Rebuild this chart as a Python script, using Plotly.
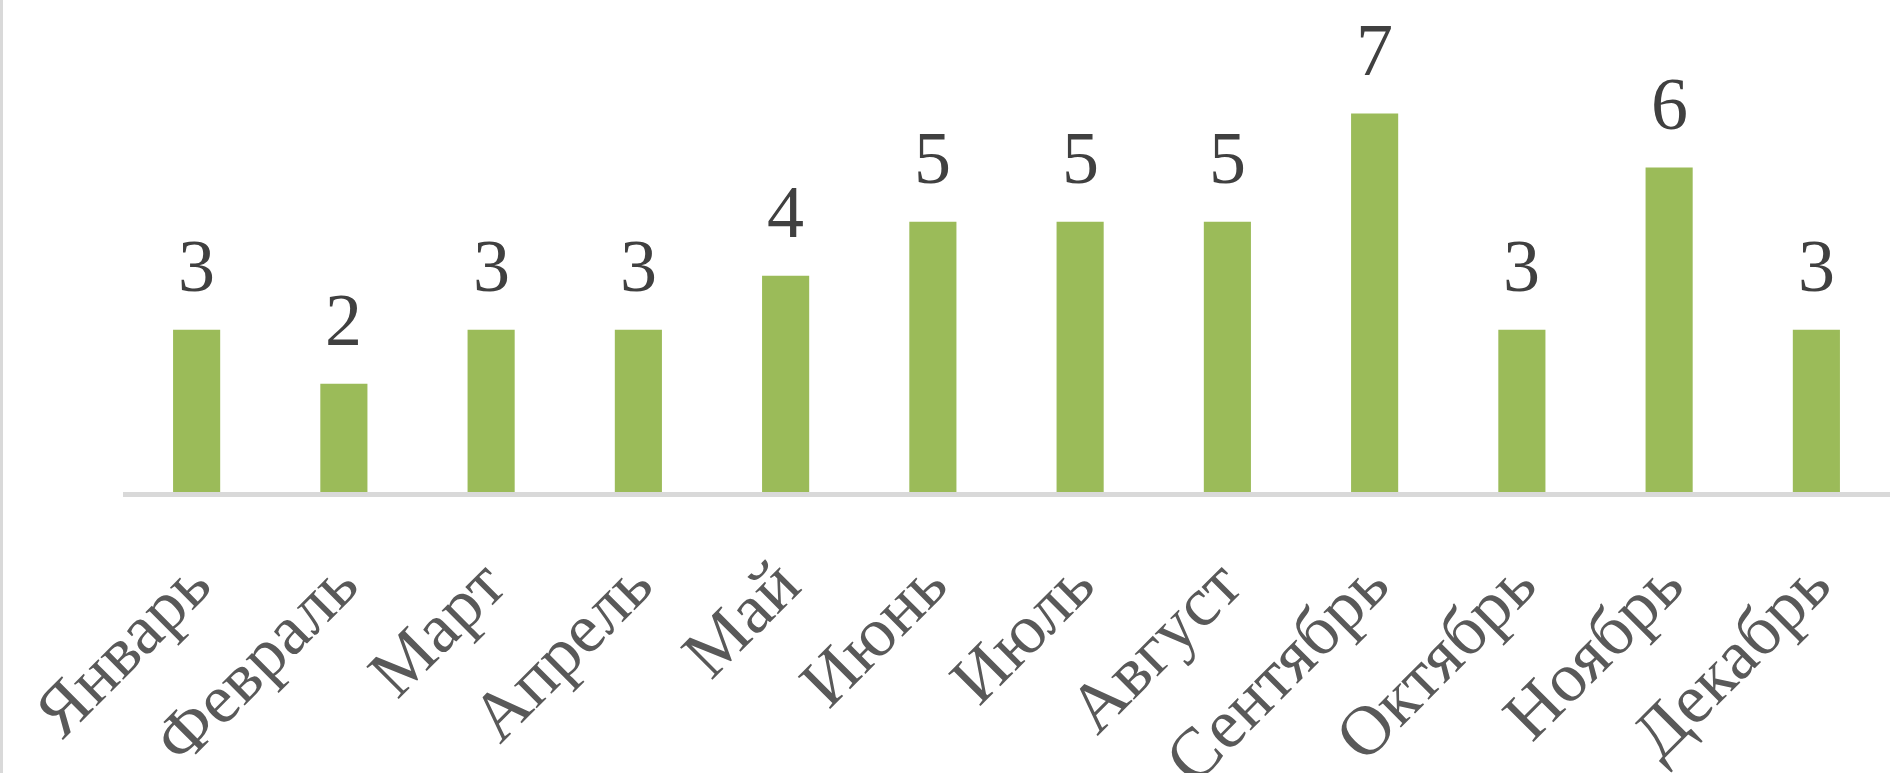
import plotly.graph_objects as go

months = ["Январь", "Февраль", "Март", "Апрель", "Май", "Июнь",
          "Июль", "Август", "Сентябрь", "Октябрь", "Ноябрь", "Декабрь"]
counts = [3, 2, 3, 3, 4, 5, 5, 5, 7, 3, 6, 3]

W, H = 1897, 773
ML, MR, MT, MB = 123, 7, 0, 281
plot_w = W - ML - MR

serif = "Liberation Serif, Times New Roman, serif"

fig = go.Figure(
    go.Bar(
        x=months,
        y=counts,
        marker=dict(color="#9BBB59", line=dict(width=0)),
        hoverinfo="skip",
    )
)

# value labels above each bar
for m, v in zip(months, counts):
    fig.add_annotation(
        x=m, y=v, text=str(v), showarrow=False,
        yanchor="bottom", yshift=21,
        font=dict(family=serif, size=74, color="#404040"),
    )

# thin grey frame line on the left edge of the chart area
fig.add_shape(
    type="line", xref="paper", yref="paper",
    x0=-(ML - 1.5) / plot_w, x1=-(ML - 1.5) / plot_w,
    y0=-MB / (H - MT - MB), y1=1.0,
    line=dict(color="#d9d9d9", width=3),
)

fig.update_layout(
    width=W, height=H,
    margin=dict(l=ML, r=MR, t=MT, b=MB, autoexpand=False),
    paper_bgcolor="white", plot_bgcolor="white",
    bargap=0.68,
    showlegend=False,
)
fig.update_xaxes(
    showline=True, linecolor="#d9d9d9", linewidth=5,
    ticks="", tickangle=-45, ticklabelstandoff=18, ticklabelshift=-7,
    tickfont=dict(family=serif, size=70, color="#595959"),
    showgrid=False, automargin=False,
)
fig.update_yaxes(
    range=[0, 9.1], visible=False, showgrid=False, zeroline=False,
    automargin=False,
)

fig.write_html("out.html")
